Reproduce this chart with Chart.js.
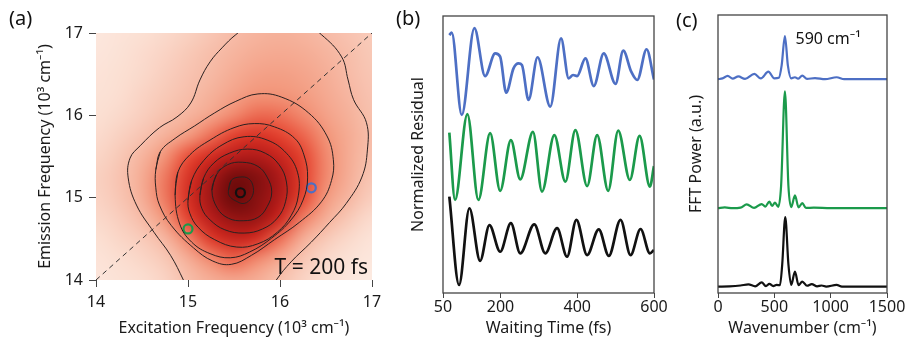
<!DOCTYPE html>
<html>
<head>
<meta charset="utf-8">
<script src="https://cdn.jsdelivr.net/npm/chart.js@4.4.1/dist/chart.umd.min.js"></script>
<style>
html, body { margin: 0; padding: 0; background: #fff; }
#wrap { position: relative; width: 906px; height: 347px; overflow: hidden; }
.panel { position: absolute; top: 0; height: 347px; }
.tag { position: absolute; font: 20px/20px 'Noto Sans', sans-serif; color: #111; }
</style>
</head>
<body>
<div id="wrap">
  <div class="panel" style="left:0;width:390px"><canvas id="chartA"></canvas></div>
  <div class="panel" style="left:390px;width:280px"><canvas id="chartB"></canvas></div>
  <div class="panel" style="left:670px;width:236px"><canvas id="chartC"></canvas></div>
  <div class="tag" style="left:9px;top:8px">(a)</div>
  <div class="tag" style="left:396px;top:8px">(b)</div>
  <div class="tag" style="left:676px;top:10px">(c)</div>
</div>
<script>
// ---- (a) 2D spectrum at T = 200 fs ----
const excitation = [14, 14.25, 14.5, 14.75, 15, 15.25, 15.5, 15.75, 16, 16.25, 16.5, 16.75, 17];
const emission = [17, 16.75, 16.5, 16.25, 16, 15.75, 15.5, 15.25, 15, 14.75, 14.5, 14.25, 14];
// rows follow emission (top to bottom), columns follow excitation
const intensity = [
  [0.05, 0.07, 0.09, 0.12, 0.15, 0.19, 0.23, 0.26, 0.27, 0.26, 0.23, 0.20, 0.17],
  [0.06, 0.08, 0.11, 0.14, 0.18, 0.22, 0.26, 0.29, 0.30, 0.29, 0.26, 0.22, 0.18],
  [0.07, 0.09, 0.12, 0.16, 0.20, 0.24, 0.29, 0.33, 0.34, 0.32, 0.28, 0.23, 0.19],
  [0.08, 0.10, 0.14, 0.18, 0.22, 0.27, 0.33, 0.38, 0.38, 0.35, 0.30, 0.25, 0.20],
  [0.09, 0.12, 0.16, 0.21, 0.26, 0.32, 0.40, 0.46, 0.45, 0.40, 0.33, 0.27, 0.21],
  [0.11, 0.15, 0.20, 0.27, 0.35, 0.45, 0.56, 0.61, 0.55, 0.47, 0.38, 0.29, 0.22],
  [0.13, 0.18, 0.26, 0.38, 0.51, 0.64, 0.74, 0.76, 0.68, 0.54, 0.40, 0.29, 0.21],
  [0.15, 0.20, 0.29, 0.43, 0.60, 0.78, 0.91, 0.88, 0.77, 0.56, 0.40, 0.28, 0.19],
  [0.14, 0.19, 0.28, 0.43, 0.62, 0.81, 0.93, 0.87, 0.76, 0.53, 0.36, 0.25, 0.16],
  [0.12, 0.16, 0.23, 0.37, 0.55, 0.74, 0.84, 0.83, 0.66, 0.42, 0.28, 0.18, 0.11],
  [0.09, 0.13, 0.17, 0.25, 0.41, 0.58, 0.68, 0.63, 0.45, 0.28, 0.18, 0.12, 0.07],
  [0.07, 0.10, 0.13, 0.18, 0.28, 0.40, 0.47, 0.40, 0.30, 0.19, 0.12, 0.08, 0.05],
  [0.06, 0.08, 0.10, 0.14, 0.22, 0.28, 0.31, 0.28, 0.21, 0.14, 0.09, 0.05, 0.03]
];

// contour lines, [excitation, emission]; the outer one leaves the frame at the top
const contour1 = [[15.02, 13.82], [14.95, 14.0], [14.81, 14.3], [14.63, 14.58], [14.44, 14.91], [14.35, 15.24], [14.37, 15.48], [14.48, 15.63], [14.69, 15.85], [14.88, 15.98], [15.03, 16.15], [15.13, 16.43], [15.24, 16.65], [15.37, 16.82], [15.52, 16.98], [15.72, 17.13], [16.21, 17.16], [16.45, 16.98], [16.67, 16.71], [16.74, 16.43], [16.8, 16.19], [16.94, 15.91], [16.95, 15.58], [16.89, 15.25], [16.72, 14.93], [16.54, 14.7], [16.34, 14.46], [16.12, 14.22], [15.96, 14.0], [15.89, 13.85]];
const contour2 = [[14.65, 15.34], [14.7, 15.56], [14.86, 15.72], [15.07, 15.87], [15.29, 16.03], [15.52, 16.17], [15.76, 16.26], [16.02, 16.22], [16.31, 16.03], [16.51, 15.75], [16.58, 15.46], [16.56, 15.21], [16.45, 14.95], [16.21, 14.7], [15.94, 14.49], [15.69, 14.3], [15.47, 14.19], [15.27, 14.23], [15.06, 14.39], [14.82, 14.66], [14.69, 14.91], [14.65, 15.12]];
const contour3 = [[14.86, 15.03], [14.89, 15.31], [15.02, 15.52], [15.24, 15.7], [15.5, 15.85], [15.72, 15.9], [15.94, 15.86], [16.16, 15.72], [16.26, 15.52], [16.3, 15.24], [16.25, 14.97], [16.12, 14.73], [15.91, 14.51], [15.67, 14.34], [15.46, 14.27], [15.24, 14.32], [15.04, 14.46], [14.91, 14.68]];
const contour4 = [[15.0, 14.97], [15.04, 15.21], [15.17, 15.45], [15.37, 15.64], [15.61, 15.74], [15.86, 15.7], [16.07, 15.54], [16.19, 15.31], [16.2, 15.03], [16.12, 14.78], [15.97, 14.58], [15.76, 14.44], [15.53, 14.4], [15.29, 14.49], [15.11, 14.64], [15.02, 14.81]];
const contour5 = [[15.13, 15.03], [15.17, 15.24], [15.28, 15.42], [15.45, 15.54], [15.65, 15.59], [15.84, 15.54], [15.99, 15.4], [16.07, 15.19], [16.06, 14.95], [15.97, 14.75], [15.81, 14.62], [15.61, 14.57], [15.4, 14.61], [15.24, 14.73], [15.15, 14.87]];
const contour6 = [[15.26, 15.09], [15.31, 15.28], [15.43, 15.4], [15.59, 15.43], [15.76, 15.38], [15.86, 15.25], [15.91, 15.07], [15.86, 14.89], [15.76, 14.76], [15.6, 14.72], [15.44, 14.75], [15.32, 14.87]];
const contour7 = [[15.44, 15.09], [15.47, 15.21], [15.56, 15.25], [15.66, 15.23], [15.71, 15.12], [15.69, 15.0], [15.61, 14.93], [15.52, 14.96], [15.45, 15.02]];
const contours = [contour1, contour2, contour3, contour4, contour5, contour6, contour7];

const diagX = [14, 17];
const diagY = [14, 17];

const markerX = [15.57, 15.0, 16.34];
const markerY = [15.06, 14.62, 15.12];
const markerColors = ['#111111', '#1b9a4b', '#4d6fc4'];

// ---- (b) residuals vs waiting time ----
const blueT = [66.5, 72.7, 98.9, 131.8, 159.8, 186, 199, 214.7, 233.8, 246.9, 255.7, 273, 296.5, 329.7, 357.7, 377.6, 389, 399.5, 421.2, 443, 469, 499.7, 519.8, 540.7, 556.4, 580.7, 599.8];
const blueR = [13.1, 14.0, -15.7, 15.6, -1.7, 6.5, 5.3, -7.7, 1.1, 2.9, 2.3, -10.3, 5.1, -12.7, 11.9, -2.5, -1.3, -1.7, 4.7, -5.3, 6.5, -4.5, 7.5, -0.1, -3.1, 8.0, -2.9];
const greenT = [66.5, 81.4, 113.5, 142.3, 172.9, 199, 227, 251.3, 284.5, 308, 340.2, 369, 395.1, 425.7, 451.8, 480.6, 506.7, 537, 562.4, 589.3, 599.8];
const greenR = [7.9, -16.4, 14.6, -16.4, 7.7, -13.1, 5.2, -9.0, 8.2, -13.4, 7.0, -9.8, 8.8, -11.4, 7.0, -13.1, 8.6, -9.2, 6.7, -11.6, -4.2];
const blackT = [66.5, 91.8, 118.8, 146.7, 171, 199, 227, 251.3, 287.9, 316.7, 347.3, 373.4, 397.7, 425.7, 456, 482.2, 512.7, 538.9, 565, 589.3, 599.8];
const blackR = [14.8, -17.1, 10.6, -8.4, 4.5, -5.1, 5.2, -5.7, 4.8, -5.7, 3.4, -6.9, 6.4, -6.3, 3.0, -6.6, 6.4, -6.3, 3.1, -5.7, -4.5];
const residualOffsets = [80, 50, 20];
const timeTicks = [50, 200, 400, 600];

// ---- (c) FFT power spectra ----
const blueW = [0, 40, 86, 130, 181, 240, 323, 380, 447, 500, 540, 565, 594, 620, 650, 683, 710, 748, 790, 861, 950, 1053, 1120, 1500];
const blueP = [0, 0.3, 1.2, 0.2, 1.0, 0.1, 1.9, 0.3, 2.7, 0.3, 0.5, 5, 15.5, 5, 0.3, 0.7, 0.2, 1.3, 0.1, 0.4, 0, 0.7, 0, 0];
const greenW = [0, 60, 130, 200, 255, 320, 388, 420, 456, 480, 506, 535, 560, 594, 625, 650, 683, 715, 748, 780, 850, 1000, 1500];
const greenP = [0, 0.3, 0, 0.2, 1.4, 0.1, 1.5, 0.6, 2.4, 0.8, 2.0, 0.5, 8, 42, 8, 0.4, 4.6, 0.3, 1.8, 0.1, 0.2, 0, 0];
const blackW = [0, 100, 200, 270, 330, 388, 425, 456, 490, 520, 550, 570, 597, 625, 650, 683, 715, 748, 790, 832, 880, 920, 960, 1053, 1100, 1500];
const blackP = [0, 0.1, 0.4, 0.8, 0.1, 1.5, 0.2, 1.0, 0.2, 0.6, 0.5, 8, 25, 8, 0.6, 5.4, 0.5, 1.8, 0.3, 0.9, 0.1, 0.4, 0, 0.6, 0, 0];
const powerOffsets = [76.9, 30.5, 2.3];
const wavenumberTicks = [0, 500, 1000, 1500];

const seriesColors = ['#4d6fc4', '#1b9a4b', '#111111'];

Chart.defaults.font.family = "'Noto Sans', sans-serif";
Chart.defaults.color = '#1a1a1a';
Chart.defaults.animation = false;

// colour scale for the 2D map
const heatStops = [
  [0, [253, 240, 233]], [0.1, [251, 222, 209]], [0.22, [247, 190, 170]], [0.38, [242, 148, 120]],
  [0.52, [232, 72, 50]], [0.64, [210, 42, 32]], [0.75, [180, 28, 26]], [0.86, [140, 18, 18]],
  [0.95, [95, 8, 8]], [1, [75, 5, 5]]
];

function heatColor(v) {
    for (let i = 1; i < heatStops.length; i++) {
        const [v1, c1] = heatStops[i];
        if (v <= v1) {
            const [v0, c0] = heatStops[i - 1];
            const f = (v - v0) / (v1 - v0);
            return c0.map((c, k) => Math.round(c + (c1[k] - c) * f));
        }
    }
    return heatStops[heatStops.length - 1][1];
}

const heatmapPlugin = {
    id: 'heatmap',
    beforeDatasetsDraw(chart) {
        const { ctx, chartArea, scales: { x, y } } = chart;
        const nx = excitation.length, ny = emission.length;
        const off = document.createElement('canvas');
        off.width = nx;
        off.height = ny;
        const octx = off.getContext('2d');
        const img = octx.createImageData(nx, ny);
        intensity.forEach((row, j) => row.forEach((v, i) => {
            const c = heatColor(v), k = (j * nx + i) * 4;
            img.data[k] = c[0]; img.data[k + 1] = c[1]; img.data[k + 2] = c[2]; img.data[k + 3] = 255;
        }));
        octx.putImageData(img, 0, 0);
        const x0 = x.getPixelForValue(excitation[0]), x1 = x.getPixelForValue(excitation[nx - 1]);
        const y0 = y.getPixelForValue(emission[0]), y1 = y.getPixelForValue(emission[ny - 1]);
        const cw = (x1 - x0) / (nx - 1), ch = (y1 - y0) / (ny - 1);
        ctx.save();
        ctx.beginPath();
        ctx.rect(chartArea.left, chartArea.top, chartArea.width, chartArea.height);
        ctx.clip();
        ctx.imageSmoothingEnabled = true;
        ctx.imageSmoothingQuality = 'high';
        ctx.filter = 'blur(2px)';
        ctx.drawImage(off, x0 - cw / 2, y0 - ch / 2, x1 - x0 + cw, y1 - y0 + ch);
        ctx.restore();
    }
};

const waitLabelPlugin = {
    id: 'waitLabel',
    afterDraw(chart) {
        const { ctx, chartArea } = chart;
        ctx.save();
        ctx.font = "21px 'Noto Sans', sans-serif";
        ctx.fillStyle = '#111';
        ctx.textAlign = 'right';
        ctx.textBaseline = 'alphabetic';
        ctx.fillText('T = 200 fs', chartArea.right - 4, chartArea.bottom - 6);
        ctx.restore();
    }
};

const boxPlugin = {
    id: 'box',
    afterDatasetsDraw(chart) {
        const { ctx, chartArea: a } = chart;
        ctx.save();
        ctx.strokeStyle = '#444';
        ctx.lineWidth = 1.3;
        ctx.strokeRect(a.left, a.top, a.width, a.height);
        ctx.restore();
    }
};

const peakLabelPlugin = {
    id: 'peakLabel',
    afterDraw(chart) {
        const { ctx, chartArea, scales: { x } } = chart;
        ctx.save();
        ctx.font = "16px 'Noto Sans', sans-serif";
        ctx.fillStyle = '#111';
        ctx.textBaseline = 'alphabetic';
        ctx.fillText('590 cm⁻¹', x.getPixelForValue(590) + 11, chartArea.top + 29);
        ctx.restore();
    }
};

function toPoints(xs, ys, offset) {
    return xs.map((v, i) => ({ x: v, y: ys[i] + offset }));
}

function axisTitle(text, padding) {
    return { display: true, text: text, font: { size: 16 }, color: '#1a1a1a', padding: padding };
}

const plainTick = v => String(v);

// (a)
const contourSets = contours.map((pts, i) => ({
    data: (i === 0 ? pts : pts.concat(pts.slice(0, 2))).map(([x, y]) => ({ x, y })),
    showLine: true,
    borderColor: '#2a2020',
    borderWidth: 1,
    pointRadius: 0,
    tension: 0.4
}));

const diagSet = {
    data: toPoints(diagX, diagY, 0),
    showLine: true,
    borderColor: '#333',
    borderWidth: 1,
    borderDash: [5, 4],
    pointRadius: 0
};

const markerSets = markerX.map((mx, i) => ({
    data: [{ x: mx, y: markerY[i] }],
    pointRadius: 4.5,
    pointBorderWidth: 2.2,
    pointBorderColor: markerColors[i],
    pointBackgroundColor: 'rgba(0,0,0,0)'
}));

new Chart(document.getElementById('chartA'), {
    type: 'scatter',
    data: { datasets: [...contourSets, diagSet, ...markerSets] },
    options: {
        responsive: true,
        maintainAspectRatio: false,
        layout: { padding: { top: 33, right: 18, left: 0, bottom: 0 } },
        plugins: { legend: { display: false }, tooltip: { enabled: false } },
        scales: {
            x: {
                type: 'linear', min: 14, max: 17,
                ticks: { stepSize: 1, padding: 6, font: { size: 16 }, color: '#1a1a1a', maxRotation: 0, callback: plainTick },
                grid: { drawOnChartArea: false, tickLength: 7, color: '#444' },
                border: { display: false },
                title: axisTitle('Excitation Frequency (10³ cm⁻¹)', { top: 0, bottom: 9 }),
                afterFit(scale) { scale.height = 67; }
            },
            y: {
                type: 'linear', min: 14, max: 17,
                ticks: { stepSize: 1, padding: 6, font: { size: 16 }, color: '#1a1a1a', callback: plainTick },
                grid: { drawOnChartArea: false, tickLength: 7, color: '#444' },
                border: { display: false },
                title: axisTitle('Emission Frequency (10³ cm⁻¹)', { top: 36, bottom: 0 }),
                afterFit(scale) { scale.width = 96; }
            }
        }
    },
    plugins: [heatmapPlugin, waitLabelPlugin]
});

// (b)
const residualSeries = [[blueT, blueR], [greenT, greenR], [blackT, blackR]];
new Chart(document.getElementById('chartB'), {
    type: 'scatter',
    data: {
        datasets: residualSeries.map(([t, r], i) => ({
            data: toPoints(t, r, residualOffsets[i]),
            showLine: true,
            borderColor: seriesColors[i],
            borderWidth: 2.7,
            pointRadius: 0,
            cubicInterpolationMode: 'monotone'
        }))
    },
    options: {
        responsive: true,
        maintainAspectRatio: false,
        layout: { padding: { top: 16, right: 16, left: 0, bottom: 0 } },
        plugins: { legend: { display: false }, tooltip: { enabled: false } },
        scales: {
            x: {
                type: 'linear', min: 50, max: 600,
                afterBuildTicks(scale) { scale.ticks = timeTicks.map(v => ({ value: v })); },
                ticks: { padding: 0, font: { size: 16 }, color: '#1a1a1a', autoSkip: false, maxRotation: 0, callback: plainTick },
                grid: { drawOnChartArea: false, tickLength: 5, color: '#444' },
                border: { display: false },
                title: axisTitle('Waiting Time (fs)', { top: 0, bottom: 9 }),
                afterFit(scale) { scale.height = 54; }
            },
            y: {
                type: 'linear', min: 0, max: 100,
                ticks: { display: false },
                grid: { display: false },
                border: { display: false },
                title: axisTitle('Normalized Residual', { top: 19, bottom: 0 }),
                afterFit(scale) { scale.width = 53; }
            }
        }
    },
    plugins: [boxPlugin]
});

// (c)
const powerSeries = [[blueW, blueP], [greenW, greenP], [blackW, blackP]];
new Chart(document.getElementById('chartC'), {
    type: 'scatter',
    data: {
        datasets: powerSeries.map(([w, p], i) => ({
            data: toPoints(w, p, powerOffsets[i]),
            showLine: true,
            borderColor: seriesColors[i],
            borderWidth: 2.2,
            pointRadius: 0,
            cubicInterpolationMode: 'monotone'
        }))
    },
    options: {
        responsive: true,
        maintainAspectRatio: false,
        layout: { padding: { top: 15, right: 19, left: 0, bottom: 0 } },
        plugins: { legend: { display: false }, tooltip: { enabled: false } },
        scales: {
            x: {
                type: 'linear', min: 0, max: 1500,
                afterBuildTicks(scale) { scale.ticks = wavenumberTicks.map(v => ({ value: v })); },
                ticks: { padding: 0, font: { size: 16 }, color: '#1a1a1a', autoSkip: false, maxRotation: 0, callback: plainTick },
                grid: { drawOnChartArea: false, tickLength: 5, color: '#444' },
                border: { display: false },
                title: axisTitle('Wavenumber (cm⁻¹)', { top: 0, bottom: 9 }),
                afterFit(scale) { scale.height = 54; }
            },
            y: {
                type: 'linear', min: 0, max: 100,
                ticks: { display: false },
                grid: { display: false },
                border: { display: false },
                title: axisTitle('FFT Power (a.u.)', { top: 17, bottom: 0 }),
                afterFit(scale) { scale.width = 48; }
            }
        }
    },
    plugins: [boxPlugin, peakLabelPlugin]
});
</script>
</body>
</html>
